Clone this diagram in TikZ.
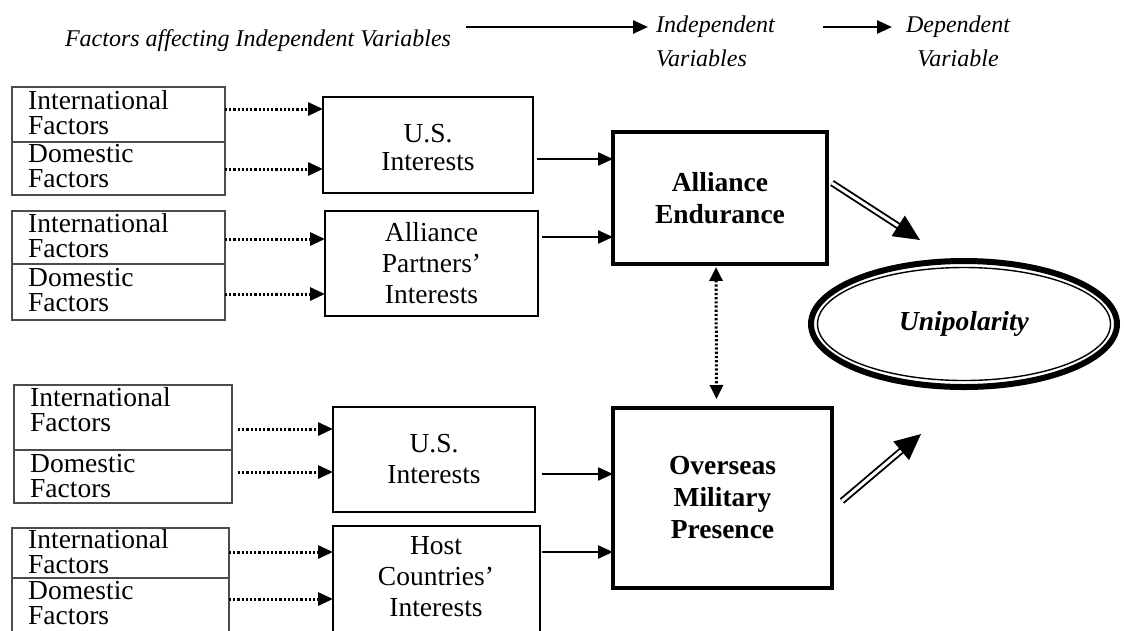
\documentclass[tikz,border=0pt]{standalone}
\usepackage{fontspec}
\setmainfont{Liberation Serif}
\usetikzlibrary{arrows.meta,shapes.geometric,calc}
\begin{document}
\begin{tikzpicture}[x=1pt,y=-1pt,
  half/.style={draw=black!70,line width=1.1pt,anchor=north west,inner sep=0pt,outer sep=0pt},
  ftext/.style={anchor=west,inner sep=0pt,align=left,font=\fontsize{27.5pt}{25pt}\selectfont},
  mbox/.style={draw,line width=1.8pt,anchor=north west,inner sep=0pt,outer sep=0pt,align=center,font=\fontsize{27.5pt}{31pt}\selectfont},
  mtext/.style={inner sep=0pt,align=center,font=\fontsize{27.5pt}{31pt}\selectfont},
  bbox/.style={draw,line width=3.6pt,anchor=north west,inner sep=0pt,outer sep=0pt,align=center,font=\fontsize{27.5pt}{32pt}\selectfont\bfseries},
  htext/.style={inner sep=0pt,font=\fontsize{24pt}{34pt}\selectfont\itshape},
  dotarr/.style={line width=3pt,dash pattern=on 2.2pt off 2pt,-{Triangle[length=15pt,width=13pt]}},
  solarr/.style={line width=2.3pt,-{Triangle[length=15pt,width=13pt]}},
  dblarr/.style={line width=1.9pt,double,double distance=3pt,-{Triangle[length=26pt,width=24pt]}}
]
\useasboundingbox (0,0) rectangle (1124,630);
\clip (0,0) rectangle (1124,630);

% header
\node[htext,anchor=center] (hfac) at (258,41) {Factors affecting Independent Variables};
\node[htext,anchor=west,align=left] (hind) at (656,41) {Independent\\Variables};
\node[htext,anchor=center,align=center] (hdep) at (958,41) {Dependent\\Variable};
\coordinate (h1s) at (466,27);
\coordinate (h1e) at (648,27);
\coordinate (h2s) at (823,27);
\coordinate (h2e) at (892,27);
\draw[solarr,line width=2.6pt] (h1s) -- (h1e);
\draw[solarr,line width=2.6pt] (h2s) -- (h2e);

% group 1 left
\node[half,minimum width=213pt,minimum height=55pt] (f1a) at (12,87) {};
\node[half,minimum width=213pt,minimum height=53pt] (f1b) at (12,142) {};
\node[ftext] (t1a) at (28,112.5) {International\\Factors};
\node[ftext] (t1b) at (28,166.5) {Domestic\\Factors};
% group 2 left
\node[half,minimum width=213pt,minimum height=53pt] (f2a) at (12,211) {};
\node[half,minimum width=213pt,minimum height=56pt] (f2b) at (12,264) {};
\node[ftext] (t2a) at (28,235.5) {International\\Factors};
\node[ftext] (t2b) at (28,290) {Domestic\\Factors};
% group 3 left
\node[half,minimum width=218pt,minimum height=65pt] (f3a) at (14,385) {};
\node[half,minimum width=218pt,minimum height=53pt] (f3b) at (14,450) {};
\node[ftext] (t3a) at (30,409.5) {International\\Factors};
\node[ftext] (t3b) at (30,476) {Domestic\\Factors};
% group 4 left
\node[half,minimum width=217pt,minimum height=50pt] (f4a) at (12,528) {};
\node[half,minimum width=217pt,minimum height=80pt] (f4b) at (12,578) {};
\node[ftext] (t4a) at (28,552) {International\\Factors};
\node[ftext] (t4b) at (28,603) {Domestic\\Factors};

% middle boxes
\node[mbox,minimum width=210pt,minimum height=96pt] (us1) at (323,97) {};
\node[mtext,font=\fontsize{27.5pt}{28pt}\selectfont] (us1t) at (428,148) {U.S.\\Interests};
\node[mbox,minimum width=213pt,minimum height=105pt] (ap) at (325,211) {Alliance\\Partners’\\Interests};
\node[mbox,minimum width=202pt,minimum height=105pt] (us2) at (333,407) {U.S.\\Interests};
\node[mbox,minimum width=207pt,minimum height=130pt] (hc) at (333,526) {};
\node[mtext] (hct) at (436,577) {Host\\Countries’\\Interests};

% big boxes
\node[bbox,minimum width=214pt,minimum height=132pt] (ae) at (613,132) {Alliance\\Endurance};
\node[bbox,minimum width=219pt,minimum height=180pt] (omp) at (613,408) {Overseas\\Military\\Presence};

% ellipse
\node[ellipse,draw,line width=6pt,minimum width=306pt,minimum height=126pt,inner sep=0pt,
      font=\fontsize{27.5pt}{32pt}\selectfont\bfseries\itshape] (uni) at (964,324) {\raisebox{-6pt}{Unipolarity}};
\draw[line width=1.4pt] (uni.center) ellipse [x radius=146.5, y radius=56.5];

% dotted arrows
\draw[dotarr] (f1a.east |- 0,109) -- (us1.west |- 0,109);
\draw[dotarr] (f1b.east |- 0,169) -- (us1.west |- 0,169);
\draw[dotarr] (f2a.east |- 0,239) -- (ap.west |- 0,239);
\draw[dotarr] (f2b.east |- 0,294) -- (ap.west |- 0,294);
\draw[dotarr] ($(f3a.east |- 0,429)+(6,0)$) -- (us2.west |- 0,429);
\draw[dotarr] ($(f3b.east |- 0,472)+(6,0)$) -- (us2.west |- 0,472);
\draw[dotarr] (f4a.east |- 0,552) -- (hc.west |- 0,552);
\draw[dotarr] (f4b.east |- 0,599) -- (hc.west |- 0,599);

% solid arrows
\draw[solarr] ($(us1.east |- 0,159)+(4,0)$) -- (ae.west |- 0,159);
\draw[solarr] ($(ap.east |- 0,237)+(4,0)$) -- (ae.west |- 0,237);
\draw[solarr] ($(us2.east |- 0,474)+(7,0)$) -- (omp.west |- 0,474);
\draw[solarr] ($(hc.east |- 0,552)+(2,0)$) -- (omp.west |- 0,552);

% vertical two-headed dotted arrow
\draw[line width=3pt,dash pattern=on 2.2pt off 2pt,{Triangle[length=14pt,width=13pt]}-{Triangle[length=14pt,width=13pt]}]
  ($(ae.south)+(-4,3)$) -- ($(omp.north)+(-6,-9)$);

% double arrows
\coordinate (d1s) at (832,183);
\coordinate (d1e) at (920,240);
\coordinate (d2s) at (842,501);
\coordinate (d2e) at (921,434);
\draw[dblarr] (d1s) -- (d1e);
\draw[dblarr] (d2s) -- (d2e);
\end{tikzpicture}
\end{document}
